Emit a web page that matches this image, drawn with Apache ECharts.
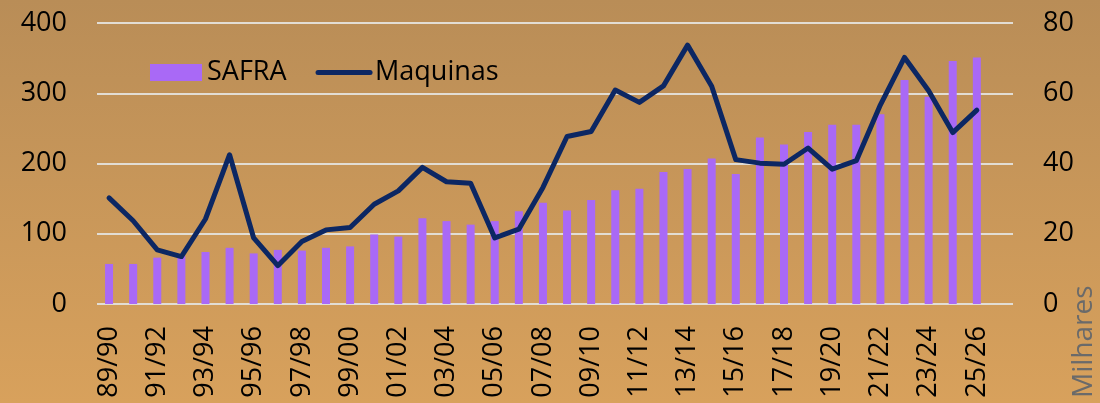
<!DOCTYPE html>
<html>
<head>
<meta charset="utf-8">
<script src="https://cdn.jsdelivr.net/npm/echarts@6/dist/echarts.min.js"></script>
<style>
html,body{margin:0;padding:0;}
#chart{width:1100px;height:403px;}
</style>
</head>
<body>
<div id="chart"></div>
<script>
var seasons = ['89/90','90/91','91/92','92/93','93/94','94/95','95/96','96/97','97/98','98/99','99/00','00/01','01/02','02/03','03/04','04/05','05/06','06/07','07/08','08/09','09/10','10/11','11/12','12/13','13/14','14/15','15/16','16/17','17/18','18/19','19/20','20/21','21/22','22/23','23/24','24/25','25/26',''];
var safra = [57,57,66,68,74,80,72,77,76,80,82,99,96,122,118,113,118,132,144,133,148,162,164,188,192,207,185,237,227,245,255,255,270,319,295,346,351];
var maquinas = [30.2,23.7,15.4,13.5,24.2,42.5,18.8,10.9,17.8,21.1,21.8,28.4,32.2,38.9,34.8,34.4,18.8,21.3,33.2,47.7,49.1,60.9,57.4,62.1,73.7,62.0,41.1,40.1,39.8,44.4,38.4,40.8,56.7,70.2,60.7,48.8,55.2];
var leftTicks = [0,100,200,300,400];
var rightTicks = [0,20,40,60,80];

var FONT = 'Open Sans';
var chart = echarts.init(document.getElementById('chart'));
chart.setOption({
  backgroundColor: {type:'linear', x:0, y:0, x2:0, y2:1, colorStops:[{offset:0,color:'#b98d57'},{offset:1,color:'#d8a15c'}]},
  textStyle:{fontFamily:FONT},
  animation:false,
  grid:{left:97, right:87, top:23, bottom:99, containLabel:false},
  legend:{
    left:150, top:59, padding:0, itemWidth:52, itemHeight:17, itemGap:29,
    textStyle:{fontFamily:FONT, fontSize:27, color:'#000'},
    data:[
      {name:'SAFRA', icon:'rect'},
      {name:'Maquinas', itemStyle:{opacity:0, color:'rgba(0,0,0,0)', borderWidth:0}, lineStyle:{width:5, color:'#0c2763', cap:'round', opacity:1}}
    ]
  },
  xAxis:{
    type:'category', data:seasons, boundaryGap:true,
    axisLine:{show:false}, axisTick:{show:false},
    axisLabel:{interval:1, rotate:90, fontSize:27, color:'#000', fontFamily:FONT, margin:22}
  },
  yAxis:[
    {type:'value', min:leftTicks[0], max:leftTicks[leftTicks.length-1], interval:100, position:'left',
     axisLine:{show:false}, axisTick:{show:false},
     axisLabel:{fontSize:27, color:'#000', fontFamily:FONT, margin:30},
     splitLine:{lineStyle:{color:'#e2ddd4', width:2}}},
    {type:'value', min:rightTicks[0], max:rightTicks[rightTicks.length-1], interval:20, position:'right',
     axisLine:{show:false}, axisTick:{show:false},
     axisLabel:{fontSize:27, color:'#000', fontFamily:FONT, margin:30},
     splitLine:{show:false}}
  ],
  graphic:[{
    type:'text', x:1084, y:398, rotation:Math.PI/2,
    style:{text:'Milhares', fontFamily:FONT, fontSize:28, fill:'#6a6a6a', textAlign:'left', textVerticalAlign:'middle'}
  }],
  series:[
    {name:'SAFRA', type:'bar', data:safra, yAxisIndex:0, barWidth:8,
     itemStyle:{color:'#a969f6'}},
    {name:'Maquinas', type:'line', data:maquinas, yAxisIndex:1, symbol:'none',
     lineStyle:{color:'#0c2763', width:5, join:'round', cap:'round'},
     itemStyle:{color:'#0c2763'}}
  ]
});
</script>
</body>
</html>
